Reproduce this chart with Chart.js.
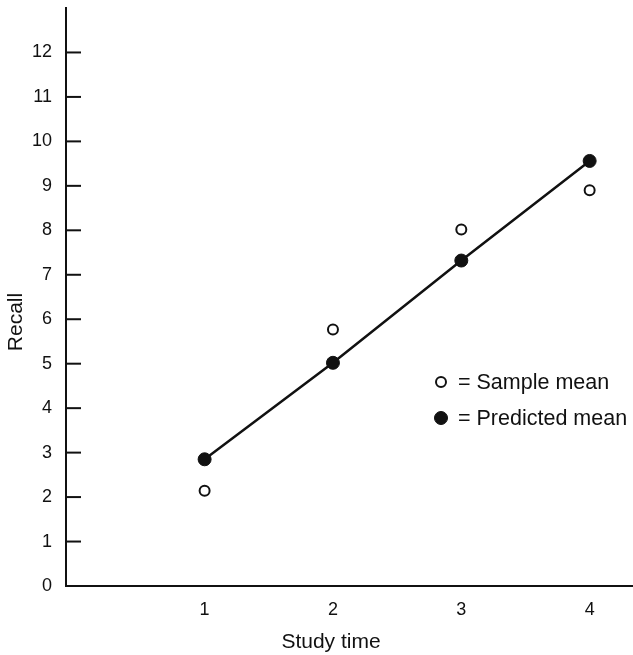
<!DOCTYPE html>
<html>
<head>
<meta charset="utf-8">
<script src="https://cdn.jsdelivr.net/npm/chart.js@4"></script>
<style>
  body { margin: 0; background: #fff; }
  canvas { display: block; }
</style>
</head>
<body>
<canvas id="chart" width="633" height="655"></canvas>
<script>
// study time vs recall: sample means and model predictions
const studyTime = [1, 2, 3, 4];
const sampleMean = [2.14, 5.77, 8.02, 8.90];
const predictedMean = [2.85, 5.02, 7.32, 9.56];
const xTicks = [1, 2, 3, 4];
const yTicks = [0, 1, 2, 3, 4, 5, 6, 7, 8, 9, 10, 11, 12];
const legendLabels = ['= Sample mean', '= Predicted mean'];
const xTitle = 'Study time';
const yTitle = 'Recall';

const FONT = 'Liberation Sans, Arial, sans-serif';
const INK = '#111';

function pts(ys) {
  return studyTime.map((x, i) => ({ x: x, y: ys[i] }));
}

// y ticks are short marks drawn inward from the axis
const innerTicks = {
  id: 'innerTicks',
  afterDatasetsDraw(chart) {
    const ctx = chart.ctx;
    const y = chart.scales.y;
    const left = chart.chartArea.left;
    ctx.save();
    ctx.strokeStyle = INK;
    ctx.lineWidth = 2;
    for (const v of yTicks) {
      if (v === 0) continue;
      const py = y.getPixelForValue(v);
      ctx.beginPath();
      ctx.moveTo(left, py);
      ctx.lineTo(left + 15, py);
      ctx.stroke();
    }
    ctx.restore();
  }
};

// axis titles sit a little off-centre, so place them by hand
const axisTitles = {
  id: 'axisTitles',
  afterDraw(chart) {
    const ctx = chart.ctx;
    ctx.save();
    ctx.font = '21px ' + FONT;
    ctx.fillStyle = INK;
    ctx.textAlign = 'center';
    ctx.textBaseline = 'middle';
    ctx.fillText(xTitle, 331, 642);
    ctx.translate(16, 322);
    ctx.rotate(-Math.PI / 2);
    ctx.fillText(yTitle, 0, 0);
    ctx.restore();
  }
};

// key sits inside the plot, lower right
const keyBox = {
  id: 'keyBox',
  afterDraw(chart) {
    const ctx = chart.ctx;
    const x0 = 441, y0 = 382, gap = 36;
    ctx.save();
    ctx.font = '21.5px ' + FONT;
    ctx.textBaseline = 'middle';
    chart.data.datasets.forEach((ds, i) => {
      const cy = y0 + i * gap;
      ctx.beginPath();
      ctx.arc(x0, cy, ds.pointRadius, 0, Math.PI * 2);
      ctx.fillStyle = ds.pointBackgroundColor;
      ctx.fill();
      ctx.lineWidth = ds.pointBorderWidth;
      ctx.strokeStyle = INK;
      ctx.stroke();
      ctx.fillStyle = INK;
      ctx.fillText(legendLabels[i], x0 + 17, cy + 1);
    });
    ctx.restore();
  }
};

new Chart(document.getElementById('chart'), {
  type: 'scatter',
  data: {
    datasets: [
      {
        label: 'Sample mean',
        data: pts(sampleMean),
        showLine: false,
        pointRadius: 5,
        pointBackgroundColor: '#fff',
        pointBorderColor: INK,
        pointBorderWidth: 2
      },
      {
        label: 'Predicted mean',
        data: pts(predictedMean),
        showLine: true,
        borderColor: INK,
        borderWidth: 2.5,
        pointRadius: 6.5,
        pointBackgroundColor: INK,
        pointBorderColor: INK,
        pointBorderWidth: 1
      }
    ]
  },
  options: {
    responsive: false,
    animation: false,
    layout: { autoPadding: false, padding: { top: 8, right: 1, left: 0, bottom: 0 } },
    plugins: {
      legend: { display: false },
      tooltip: { enabled: false }
    },
    scales: {
      x: {
        type: 'linear',
        min: -0.08,
        max: 4.33,
        afterBuildTicks: s => { s.ticks = xTicks.map(v => ({ value: v })); },
        afterFit: s => { s.height = 69; s.paddingLeft = 0; s.paddingRight = 0; },
        grid: { display: false, drawTicks: false },
        border: { display: true, color: INK, width: 2 },
        ticks: { color: INK, padding: 13, font: { family: FONT, size: 18 } }
      },
      y: {
        min: 0,
        max: 13,
        afterBuildTicks: s => { s.ticks = yTicks.map(v => ({ value: v })); },
        afterFit: s => { s.width = 66; s.paddingTop = 0; s.paddingBottom = 0; },
        grid: { display: false, drawTicks: false },
        border: { display: true, color: INK, width: 2 },
        ticks: { color: INK, padding: 14, font: { family: FONT, size: 18 } }
      }
    }
  },
  plugins: [innerTicks, axisTitles, keyBox]
});
</script>
</body>
</html>
